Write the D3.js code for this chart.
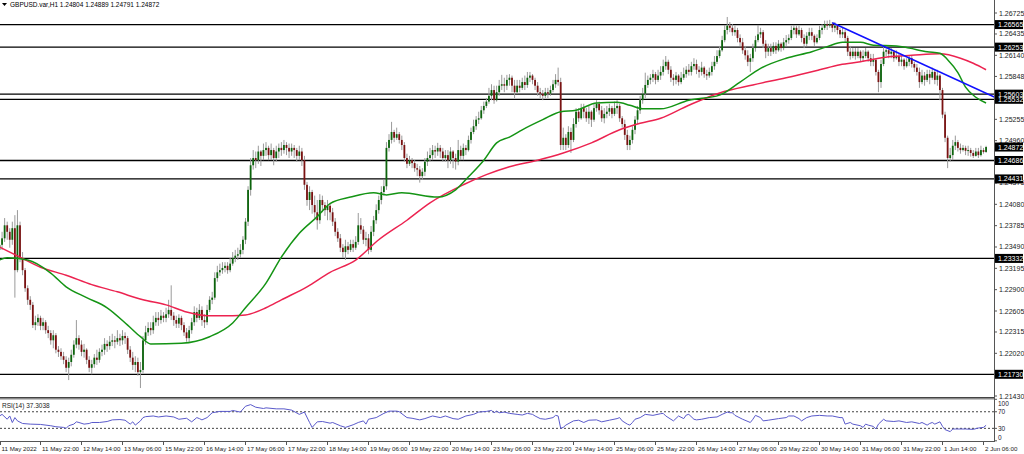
<!DOCTYPE html>
<html><head><meta charset="utf-8">
<script src="https://cdn.jsdelivr.net/npm/d3@7"></script>
<style>html,body{margin:0;padding:0;background:#fff;overflow:hidden}svg{display:block;font-family:"Liberation Sans",Arial,sans-serif}</style>
</head><body><svg id="c" width="1024" height="454"></svg>
<script>
const symbolTitle = "GBPUSD.var,H1  1.24804 1.24889 1.24791 1.24872";
const rsiTitle = "RSI(14) 37.3038";
const firstOpen = 1.2345;
const closes = [
1.2352,1.2361,1.2379,1.2370,1.2359,1.2375,1.2317,1.2379,
1.2334,1.2317,1.2292,1.2276,1.2269,1.2241,1.2245,1.2251,
1.2240,1.2245,1.2234,1.2230,1.2220,1.2227,1.2207,1.2204,
1.2198,1.2193,1.2182,1.2190,1.2200,1.2214,1.2223,1.2214,
1.2204,1.2207,1.2193,1.2182,1.2187,1.2196,1.2193,1.2204,
1.2207,1.2215,1.2212,1.2218,1.2220,1.2218,1.2223,1.2220,
1.2226,1.2223,1.2207,1.2196,1.2186,1.2190,1.2176,1.2179,
1.2220,1.2231,1.2237,1.2234,1.2245,1.2251,1.2248,1.2254,
1.2251,1.2256,1.2262,1.2254,1.2248,1.2243,1.2251,1.2241,
1.2231,1.2223,1.2234,1.2245,1.2259,1.2251,1.2262,1.2248,
1.2245,1.2262,1.2276,1.2279,1.2306,1.2314,1.2317,1.2320,
1.2323,1.2317,1.2326,1.2334,1.2337,1.2339,1.2345,1.2359,
1.2384,1.2428,1.2462,1.2472,1.2469,1.2481,1.2475,1.2483,
1.2486,1.2476,1.2483,1.2472,1.2481,1.2486,1.2483,1.2490,
1.2486,1.2481,1.2486,1.2483,1.2475,1.2481,1.2469,1.2435,
1.2414,1.2425,1.2407,1.2397,1.2386,1.2414,1.2407,1.2400,
1.2406,1.2397,1.2384,1.2370,1.2361,1.2348,1.2342,1.2350,
1.2345,1.2353,1.2348,1.2356,1.2379,1.2373,1.2359,1.2361,
1.2345,1.2370,1.2386,1.2400,1.2414,1.2425,1.2433,1.2486,
1.2497,1.2508,1.2500,1.2505,1.2497,1.2490,1.2472,1.2464,
1.2469,1.2465,1.2458,1.2456,1.2447,1.2453,1.2467,1.2472,
1.2476,1.2483,1.2481,1.2486,1.2481,1.2472,1.2476,1.2469,
1.2481,1.2472,1.2467,1.2483,1.2475,1.2486,1.2483,1.2497,
1.2508,1.2516,1.2525,1.2527,1.2538,1.2544,1.2550,1.2558,
1.2566,1.2552,1.2563,1.2572,1.2574,1.2572,1.2580,1.2583,
1.2572,1.2563,1.2572,1.2569,1.2577,1.2573,1.2583,1.2586,
1.2580,1.2572,1.2563,1.2561,1.2558,1.2563,1.2561,1.2566,
1.2574,1.2580,1.2577,1.2490,1.2500,1.2490,1.2508,1.2497,
1.2519,1.2536,1.2527,1.2541,1.2536,1.2527,1.2536,1.2525,
1.2541,1.2547,1.2538,1.2527,1.2533,1.2536,1.2541,1.2533,
1.2541,1.2544,1.2527,1.2519,1.2504,1.2490,1.2497,1.2511,
1.2525,1.2538,1.2552,1.2561,1.2573,1.2580,1.2583,1.2588,
1.2580,1.2586,1.2591,1.2599,1.2605,1.2594,1.2583,1.2580,
1.2586,1.2577,1.2583,1.2588,1.2594,1.2591,1.2599,1.2602,
1.2594,1.2591,1.2597,1.2588,1.2586,1.2591,1.2599,1.2605,
1.2613,1.2621,1.2635,1.2649,1.2655,1.2652,1.2646,1.2649,
1.2638,1.2632,1.2621,1.2614,1.2605,1.2610,1.2624,1.2635,
1.2643,1.2646,1.2630,1.2619,1.2624,1.2619,1.2627,1.2621,
1.2630,1.2624,1.2632,1.2635,1.2638,1.2649,1.2652,1.2643,
1.2649,1.2638,1.2630,1.2641,1.2646,1.2641,1.2632,1.2638,
1.2649,1.2652,1.2657,1.2655,1.2657,1.2652,1.2655,1.2649,
1.2643,1.2646,1.2638,1.2619,1.2613,1.2619,1.2613,1.2619,
1.2610,1.2613,1.2619,1.2610,1.2605,1.2608,1.2591,1.2577,
1.2602,1.2619,1.2621,1.2616,1.2619,1.2610,1.2613,1.2605,
1.2608,1.2599,1.2605,1.2610,1.2602,1.2597,1.2591,1.2577,
1.2586,1.2580,1.2588,1.2583,1.2591,1.2580,1.2586,1.2566,
1.2532,1.2500,1.2472,1.2476,1.2489,1.2494,1.2486,1.2483,
1.2486,1.2482,1.2483,1.2479,1.2475,1.2481,1.2476,1.2483,
1.24804,1.24872];
const highs = [
1.2359,1.2370,1.2389,1.2384,1.2375,1.2384,1.2393,1.2400,
1.2384,1.2342,1.2320,1.2296,1.2281,1.2273,1.2254,1.2256,
1.2254,1.2251,1.2248,1.2240,1.2234,1.2234,1.2230,1.2212,
1.2209,1.2204,1.2198,1.2196,1.2207,1.2220,1.2248,1.2227,
1.2220,1.2215,1.2209,1.2198,1.2193,1.2201,1.2207,1.2209,
1.2214,1.2223,1.2220,1.2226,1.2229,1.2226,1.2234,1.2229,
1.2234,1.2231,1.2226,1.2212,1.2204,1.2198,1.2196,1.2190,
1.2226,1.2240,1.2245,1.2245,1.2254,1.2259,1.2259,1.2262,
1.2259,1.2265,1.2276,1.2296,1.2259,1.2254,1.2256,1.2254,
1.2245,1.2237,1.2240,1.2251,1.2267,1.2265,1.2270,1.2267,
1.2256,1.2269,1.2281,1.2287,1.2314,1.2323,1.2326,1.2328,
1.2328,1.2328,1.2334,1.2342,1.2345,1.2348,1.2353,1.2364,
1.2389,1.2433,1.2472,1.2483,1.2481,1.2489,1.2483,1.2492,
1.2494,1.2489,1.2492,1.2486,1.2489,1.2492,1.2494,1.2497,
1.2494,1.2492,1.2492,1.2490,1.2486,1.2489,1.2486,1.2475,
1.2439,1.2433,1.2428,1.2420,1.2414,1.2422,1.2420,1.2411,
1.2414,1.2410,1.2403,1.2389,1.2375,1.2367,1.2353,1.2359,
1.2356,1.2359,1.2359,1.2364,1.2396,1.2389,1.2378,1.2370,
1.2367,1.2378,1.2392,1.2408,1.2420,1.2433,1.2442,1.2494,
1.2505,1.2522,1.2511,1.2514,1.2508,1.2503,1.2494,1.2478,
1.2475,1.2472,1.2469,1.2464,1.2461,1.2458,1.2472,1.2481,
1.2486,1.2490,1.2489,1.2493,1.2490,1.2486,1.2483,1.2483,
1.2487,1.2483,1.2478,1.2497,1.2489,1.2492,1.2490,1.2503,
1.2514,1.2525,1.2530,1.2536,1.2544,1.2550,1.2555,1.2569,
1.2574,1.2572,1.2572,1.2580,1.2587,1.2583,1.2587,1.2588,
1.2586,1.2580,1.2580,1.2580,1.2583,1.2586,1.2591,1.2591,
1.2588,1.2583,1.2577,1.2569,1.2566,1.2569,1.2569,1.2572,
1.2580,1.2588,1.2597,1.2583,1.2514,1.2505,1.2516,1.2514,
1.2527,1.2541,1.2541,1.2547,1.2547,1.2541,1.2544,1.2538,
1.2547,1.2552,1.2550,1.2544,1.2541,1.2544,1.2547,1.2544,
1.2550,1.2552,1.2547,1.2530,1.2525,1.2511,1.2503,1.2516,
1.2530,1.2544,1.2558,1.2569,1.2590,1.2586,1.2588,1.2594,
1.2591,1.2594,1.2599,1.2608,1.2613,1.2608,1.2599,1.2588,
1.2591,1.2588,1.2591,1.2597,1.2599,1.2602,1.2605,1.2610,
1.2608,1.2599,1.2605,1.2599,1.2594,1.2597,1.2605,1.2613,
1.2621,1.2627,1.2641,1.2656,1.2667,1.2660,1.2657,1.2655,
1.2652,1.2643,1.2638,1.2627,1.2621,1.2616,1.2630,1.2641,
1.2656,1.2652,1.2649,1.2635,1.2630,1.2630,1.2632,1.2632,
1.2635,1.2632,1.2638,1.2642,1.2643,1.2655,1.2656,1.2655,
1.2655,1.2652,1.2643,1.2646,1.2652,1.2652,1.2643,1.2643,
1.2655,1.2657,1.2662,1.2662,1.2663,1.2660,1.2660,1.2657,
1.2652,1.2652,1.2649,1.2641,1.2627,1.2624,1.2624,1.2624,
1.2621,1.2621,1.2624,1.2621,1.2616,1.2616,1.2608,1.2594,
1.2608,1.2627,1.2628,1.2624,1.2624,1.2621,1.2621,1.2616,
1.2613,1.2610,1.2610,1.2614,1.2613,1.2605,1.2602,1.2597,
1.2594,1.2591,1.2594,1.2594,1.2597,1.2594,1.2594,1.2588,
1.2569,1.2536,1.2503,1.2486,1.2497,1.2503,1.2497,1.2492,
1.2490,1.2489,1.2489,1.2486,1.2483,1.2486,1.2486,1.2489,
1.2486,1.24889];
const lows = [
1.2334,1.2345,1.2356,1.2359,1.2348,1.2352,1.2279,1.2314,
1.2328,1.2310,1.2287,1.2269,1.2262,1.2237,1.2234,1.2240,
1.2234,1.2234,1.2229,1.2223,1.2214,1.2209,1.2202,1.2197,
1.2193,1.2187,1.2176,1.2165,1.2184,1.2196,1.2209,1.2207,
1.2198,1.2196,1.2187,1.2176,1.2173,1.2182,1.2186,1.2189,
1.2198,1.2200,1.2204,1.2207,1.2212,1.2209,1.2214,1.2212,
1.2214,1.2215,1.2201,1.2190,1.2179,1.2176,1.2171,1.2154,
1.2175,1.2214,1.2226,1.2227,1.2229,1.2240,1.2240,1.2243,
1.2245,1.2245,1.2251,1.2248,1.2240,1.2237,1.2237,1.2234,
1.2226,1.2218,1.2218,1.2229,1.2240,1.2245,1.2248,1.2240,
1.2237,1.2241,1.2259,1.2270,1.2276,1.2301,1.2309,1.2312,
1.2314,1.2312,1.2314,1.2323,1.2328,1.2331,1.2334,1.2339,
1.2353,1.2378,1.2420,1.2456,1.2458,1.2464,1.2461,1.2469,
1.2475,1.2469,1.2469,1.2462,1.2467,1.2472,1.2475,1.2478,
1.2476,1.2472,1.2475,1.2472,1.2467,1.2469,1.2461,1.2428,
1.2406,1.2400,1.2395,1.2389,1.2373,1.2381,1.2397,1.2392,
1.2386,1.2386,1.2378,1.2364,1.2356,1.2342,1.2334,1.2331,
1.2339,1.2342,1.2342,1.2345,1.2352,1.2367,1.2353,1.2350,
1.2339,1.2342,1.2364,1.2381,1.2395,1.2408,1.2420,1.2428,
1.2481,1.2492,1.2494,1.2497,1.2492,1.2483,1.2467,1.2458,
1.2461,1.2458,1.2453,1.2447,1.2438,1.2442,1.2447,1.2461,
1.2467,1.2469,1.2472,1.2475,1.2472,1.2467,1.2467,1.2458,
1.2464,1.2458,1.2456,1.2462,1.2469,1.2469,1.2476,1.2481,
1.2492,1.2505,1.2511,1.2519,1.2525,1.2533,1.2541,1.2547,
1.2552,1.2547,1.2550,1.2558,1.2566,1.2563,1.2566,1.2572,
1.2563,1.2555,1.2561,1.2563,1.2566,1.2566,1.2569,1.2577,
1.2574,1.2566,1.2558,1.2555,1.2552,1.2555,1.2555,1.2558,
1.2563,1.2569,1.2572,1.2483,1.2483,1.2483,1.2486,1.2479,
1.2494,1.2514,1.2522,1.2525,1.2527,1.2522,1.2519,1.2515,
1.2522,1.2536,1.2532,1.2522,1.2520,1.2527,1.2530,1.2527,
1.2530,1.2533,1.2522,1.2514,1.2497,1.2483,1.2483,1.2492,
1.2505,1.2519,1.2533,1.2547,1.2555,1.2569,1.2574,1.2577,
1.2574,1.2577,1.2580,1.2586,1.2594,1.2588,1.2577,1.2572,
1.2574,1.2572,1.2574,1.2580,1.2583,1.2586,1.2586,1.2594,
1.2588,1.2583,1.2586,1.2583,1.2580,1.2583,1.2586,1.2594,
1.2602,1.2610,1.2619,1.2632,1.2643,1.2646,1.2641,1.2641,
1.2632,1.2627,1.2616,1.2608,1.2599,1.2591,1.2605,1.2619,
1.2632,1.2638,1.2624,1.2610,1.2613,1.2613,1.2616,1.2616,
1.2619,1.2619,1.2621,1.2627,1.2630,1.2635,1.2643,1.2638,
1.2641,1.2632,1.2624,1.2627,1.2635,1.2635,1.2627,1.2630,
1.2635,1.2643,1.2649,1.2649,1.2652,1.2646,1.2646,1.2643,
1.2638,1.2638,1.2632,1.2613,1.2608,1.2610,1.2608,1.2610,
1.2605,1.2605,1.2610,1.2605,1.2599,1.2599,1.2586,1.2563,
1.2569,1.2599,1.2613,1.2610,1.2610,1.2605,1.2608,1.2599,
1.2599,1.2594,1.2597,1.2599,1.2597,1.2591,1.2586,1.2569,
1.2574,1.2572,1.2577,1.2574,1.2580,1.2574,1.2572,1.2552,
1.2527,1.2494,1.2458,1.2467,1.2469,1.2483,1.2481,1.2478,
1.2481,1.2476,1.2475,1.2474,1.2472,1.2474,1.2472,1.2474,
1.2478,1.24791];

const timeLabels = ["11 May 2022","11 May 22:00","12 May 14:00","13 May 06:00","15 May 22:00","16 May 14:00","17 May 06:00","17 May 22:00","18 May 14:00","19 May 06:00","19 May 22:00","20 May 14:00","23 May 06:00","23 May 22:00","24 May 14:00","25 May 06:00","25 May 22:00","26 May 14:00","27 May 06:00","29 May 22:00","30 May 14:00","31 May 06:00","31 May 22:00","1 Jun 14:00","2 Jun 06:00"];
const barsPerLabel = 16;
const priceTicks = [1.26725,1.26435,1.26140,1.25848,1.25255,1.24960,1.24375,1.24080,1.23785,1.23490,1.23195,1.22900,1.22605,1.22315,1.22020,1.21430];
const levelLines = [1.26565,1.26253,1.25603,1.25532,1.24686,1.24431,1.23332,1.21730];
const currentPrice = 1.24872;

const maFastBars = [0,3,11,20,26,34,42,50,55,59,71,82,91,96,104,110,117,124,129,137,146,151,157,171,178,183,189,194,199,204,212,219,225,233,241,246,251,258,269,281,289,297,307,317,323,329,336,341,350,355,362,367,370,374,377,381,385];
const maFastValues = [1.2331,1.2334,1.2331,1.2313,1.2294,1.2279,1.2265,1.2241,1.2225,1.2215,1.2216,1.2225,1.2244,1.2265,1.2299,1.2335,1.2368,1.2391,1.2409,1.2418,1.2424,1.2421,1.2424,1.2418,1.2428,1.2446,1.2469,1.2493,1.2501,1.2511,1.2525,1.2536,1.2538,1.2548,1.2549,1.2545,1.2540,1.2540,1.2552,1.2559,1.2577,1.2596,1.2610,1.2619,1.2626,1.2632,1.2632,1.2628,1.2627,1.2624,1.2619,1.2617,1.2608,1.2590,1.2570,1.2556,1.2548];
const maSlowBars = [0,8,16,26,36,46,56,65,73,81,91,96,104,110,120,129,139,148,159,168,181,190,199,210,220,231,242,250,258,269,281,294,307,320,328,336,347,356,367,375,380,385];
const maSlowValues = [1.2349,1.2335,1.2321,1.2310,1.2297,1.2287,1.2276,1.2269,1.2259,1.2254,1.2254,1.2255,1.2265,1.2276,1.2294,1.2314,1.2331,1.2359,1.2386,1.2410,1.2435,1.2449,1.2460,1.2469,1.2479,1.2493,1.2511,1.2520,1.2527,1.2545,1.2562,1.2573,1.2583,1.2594,1.2601,1.2605,1.2612,1.2614,1.2616,1.2610,1.2603,1.2594];
const trendBars = [325, 389];
const trendValues = [1.2659, 1.2555];

const rsiBars = [0,1,3,4,5,6,7,9,12,16,20,22,25,26,27,29,30,31,33,35,36,39,42,44,47,49,51,52,53,55,56,57,60,62,65,68,70,73,75,77,78,79,81,83,86,90,91,94,96,98,100,103,104,108,111,114,117,119,121,122,124,126,129,130,133,135,138,140,142,143,144,147,150,152,155,156,159,161,164,166,169,172,174,177,179,182,185,187,190,192,193,194,195,197,199,202,204,206,208,209,211,213,216,217,218,219,220,221,224,226,228,230,233,235,238,241,242,243,245,246,247,248,250,252,255,258,259,260,263,265,267,268,269,271,272,274,277,280,282,284,285,286,287,290,293,294,295,297,298,300,304,307,308,310,312,313,315,317,320,323,325,328,329,330,332,333,336,337,338,339,341,342,343,345,346,349,351,354,356,359,360,362,363,364,365,367,368,369,371,372,373,377,380,382,384,385];
const rsiValues = [59.8,63.7,52,59.8,44,55.9,48,41.7,40.2,39.4,36.3,33.9,32.3,30,36.3,40.2,45.7,44.1,40.2,41.7,44.1,44.1,46.5,50.4,51.2,49.6,40.2,45.7,37.8,48,55.9,58.2,59.8,57.4,59.8,57.4,51.9,54.3,45.7,55.9,53.5,50.4,55.9,67.6,70.8,70.8,73.1,69.2,83.3,87.2,80.9,77.8,79.4,77,77,73.9,63.7,69.2,44.1,32.3,45.7,46.5,42.5,44.1,36.3,32.3,38.6,44.1,48,40.2,52,55.9,66.1,71.5,71.5,70,55.9,54.3,50.4,53.5,59.8,55.9,59.8,53.5,51.9,59.8,63.7,69.2,70.8,73.1,67.6,71.5,67.6,69.2,66.1,63.7,62.1,66.1,63.7,59.8,53.5,51.9,55.9,61.3,59.8,30,32.3,37.8,48,49.6,44.1,49.6,50.4,45.7,49.6,53.5,55.9,48,40.2,37.8,44.1,51.9,55.9,63.7,61.3,65.3,66.1,59.8,48,59.8,53.5,62.1,63.7,51.9,50.4,51.9,55.9,57.4,63.7,69.2,67.6,67.6,61.3,51.9,44.1,51.9,61.3,55.9,48,49.6,53.5,55.9,59.8,59.8,53.5,48,55.9,59.8,61.3,59.8,59.8,55.9,55.9,40.2,44.1,40.2,36.3,32.3,40.2,37.8,34.7,28.4,40.2,51.9,48,46.5,48,44.1,45.7,41.7,44.1,37.8,41.7,44.1,40.2,45.7,34.7,26.9,22.1,28.4,28.4,28.4,27.6,30.8,32.3,37.3];
const rsiLevels = [70, 30];
const rsiAxisTicks = [100, 70, 30, 0];

// ---------- drawing ----------
const svg = d3.select("#c");
const plotR = 994, mainBottom = 397, rsiTop = 400, rsiBottom = 441;
const x = d3.scaleLinear().domain([0, 384]).range([-0.5, 983.5]);
const y = d3.scaleLinear().domain([1.21430, 1.26725]).range([396, 13]);
const ry = d3.scaleLinear().domain([0, 100]).range([440.8, 399.3]);

const defs = svg.append("defs");
defs.append("clipPath").attr("id","mainClip").append("rect").attr("x",0).attr("y",0).attr("width",plotR).attr("height",mainBottom);
defs.append("clipPath").attr("id","rsiClip").append("rect").attr("x",0).attr("y",rsiTop).attr("width",plotR).attr("height",rsiBottom-rsiTop);

const main = svg.append("g").attr("clip-path","url(#mainClip)");

// horizontal levels
main.selectAll("line.lvl").data(levelLines).join("line").attr("class","lvl")
  .attr("x1",0).attr("x2",plotR).attr("y1",d=>y(d)).attr("y2",d=>y(d))
  .attr("stroke","#000").attr("stroke-width",1.3);

// candles
const n = Math.min(closes.length, highs.length, lows.length);
const candles = d3.range(n).map(i=>{
  const o = i ? closes[i-1] : firstOpen, c = closes[i];
  return {i, o, c, h: Math.max(highs[i], o, c), l: Math.min(lows[i], o, c)};
});
const cg = main.append("g");
cg.selectAll("line.wick").data(candles).join("line").attr("class","wick")
  .attr("x1",d=>x(d.i)).attr("x2",d=>x(d.i)).attr("y1",d=>y(d.h)).attr("y2",d=>y(d.l))
  .attr("stroke","#9a9a9a").attr("stroke-width",1);
cg.selectAll("rect.body").data(candles).join("rect").attr("class","body")
  .attr("x",d=>x(d.i)-0.9).attr("width",1.8)
  .attr("y",d=>y(Math.max(d.o,d.c)))
  .attr("height",d=>Math.max(1, Math.abs(y(d.o)-y(d.c))))
  .attr("fill",d=>d.c>=d.o ? "#0c640c" : "#7a1212");

// moving averages
const line = d3.line().x(d=>x(d[0])).y(d=>y(d[1])).curve(d3.curveMonotoneX);
main.append("path").datum(maSlowBars.map((b,k)=>[b,maSlowValues[k]]))
  .attr("d",line).attr("fill","none").attr("stroke","#ec2350").attr("stroke-width",1.5);
main.append("path").datum(maFastBars.map((b,k)=>[b,maFastValues[k]]))
  .attr("d",line).attr("fill","none").attr("stroke","#149414").attr("stroke-width",1.5);
// trendline
main.append("line").attr("x1",x(trendBars[0])).attr("y1",y(trendValues[0]))
  .attr("x2",x(trendBars[1])).attr("y2",y(trendValues[1]))
  .attr("stroke","#1010ff").attr("stroke-width",1.6);

// title
svg.append("path").attr("d","M2,3 L7,3 L4.5,6 Z").attr("fill","#000");
svg.append("text").attr("x",10).attr("y",7).attr("font-size",6.5).attr("fill","#000").text(symbolTitle);

// panel separator
svg.append("rect").attr("x",0).attr("y",397).attr("width",plotR).attr("height",2.5).attr("fill","#8a8a8a");
svg.append("line").attr("x1",0).attr("x2",plotR).attr("y1",397.5).attr("y2",397.5).attr("stroke","#444").attr("stroke-width",1);

// right axis line
svg.append("line").attr("x1",plotR+0.5).attr("x2",plotR+0.5).attr("y1",0).attr("y2",rsiBottom+1).attr("stroke","#555").attr("stroke-width",1);

// price ticks
const ax = svg.append("g").attr("font-size",7).attr("fill","#222");
ax.selectAll("line.t").data(priceTicks).join("line").attr("class","t")
  .attr("x1",plotR).attr("x2",plotR+3).attr("y1",d=>y(d)).attr("y2",d=>y(d)).attr("stroke","#555");
ax.selectAll("text.t").data(priceTicks).join("text").attr("class","t")
  .attr("x",plotR+5).attr("y",d=>y(d)+2.5).text(d=>d.toFixed(5));
// boxed labels
const boxes = levelLines.concat([currentPrice]);
const bx = svg.append("g");
bx.selectAll("rect").data(boxes).join("rect")
  .attr("x",plotR+1).attr("y",d=>y(d)-4.5).attr("width",28).attr("height",9).attr("fill","#000");
bx.selectAll("text").data(boxes).join("text")
  .attr("x",plotR+4).attr("y",d=>y(d)+2.5).attr("font-size",7).attr("fill","#fff").text(d=>d.toFixed(5));

// RSI panel
const rg = svg.append("g").attr("clip-path","url(#rsiClip)");
rg.selectAll("line.lv").data(rsiLevels).join("line").attr("class","lv")
  .attr("x1",0).attr("x2",plotR).attr("y1",d=>ry(d)).attr("y2",d=>ry(d))
  .attr("stroke","#444").attr("stroke-width",1).attr("stroke-dasharray","2,2");
rg.append("path").datum(rsiBars.map((b,k)=>[b,rsiValues[k]]))
  .attr("d",d3.line().x(d=>x(d[0])).y(d=>ry(d[1])))
  .attr("fill","none").attr("stroke","#5a5acb").attr("stroke-width",1);
svg.append("text").attr("x",2).attr("y",407.5).attr("font-size",6.5).attr("fill","#222").text(rsiTitle);
const rax = svg.append("g").attr("font-size",6.5).attr("fill","#223");
rax.selectAll("line").data(rsiAxisTicks).join("line")
  .attr("x1",plotR).attr("x2",plotR+3).attr("y1",d=>ry(d)).attr("y2",d=>ry(d)).attr("stroke","#555");
rax.selectAll("text").data(rsiAxisTicks).join("text")
  .attr("x",plotR+4).attr("y",d=>Math.max(406, Math.min(439.5, ry(d)+2.5))).text(d=>d);

// time axis
svg.append("line").attr("x1",0).attr("x2",plotR+1).attr("y1",rsiBottom+0.5).attr("y2",rsiBottom+0.5).attr("stroke","#555");
const tx = svg.append("g").attr("font-size",6.2).attr("fill","#222");
tx.selectAll("line").data(timeLabels).join("line")
  .attr("x1",(d,k)=>Math.max(0.5,x(k*barsPerLabel))).attr("x2",(d,k)=>Math.max(0.5,x(k*barsPerLabel)))
  .attr("y1",rsiBottom).attr("y2",rsiBottom+4).attr("stroke","#555");
tx.selectAll("text").data(timeLabels).join("text")
  .attr("x",(d,k)=>Math.max(0,x(k*barsPerLabel))+1.5).attr("y",450.5).text(d=>d);
</script></body></html>
